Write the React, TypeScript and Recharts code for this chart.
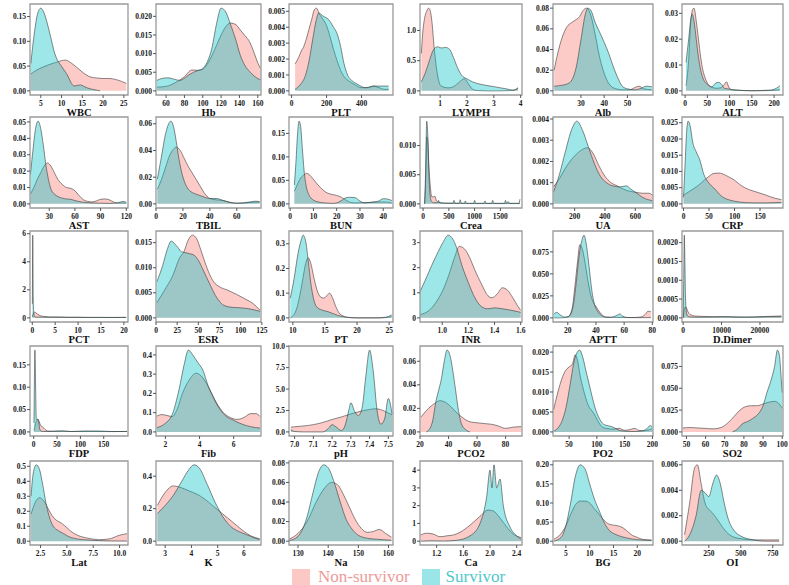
import React from 'react';
import { AreaChart, Area, XAxis, YAxis, ReferenceArea } from 'recharts';

type Pt = [number, number];

// ---------- Row 1 ----------
const wbcNon: Pt[] = [[2.6,0.034],[4,0.042],[5.5,0.048],[7,0.053],[8.5,0.057],[10,0.061],[11,0.062],[12,0.058],[13,0.052],[14,0.045],[15,0.038],[16,0.032],[17,0.028],[18.5,0.026],[20,0.025],[21.5,0.025],[23,0.023],[24.5,0.019],[25.6,0.015]];
const wbcSur: Pt[] = [[2.6,0.055],[3.5,0.12],[4.3,0.158],[5,0.167],[5.8,0.157],[6.6,0.135],[7.4,0.108],[8.2,0.08],[9,0.062],[9.8,0.052],[10.6,0.042],[11.4,0.032],[12.2,0.018],[13,0.01],[13.8,0.011],[14.6,0.012],[15.4,0.009],[16.2,0.006],[17.5,0.003],[19.3,0]];
const wbcTicks = [5, 10, 15, 20, 25];

const hbNon: Pt[] = [[50,0.001],[60,0.0012],[70,0.0022],[80,0.0038],[88,0.0056],[95,0.0055],[100,0.0058],[105,0.0072],[110,0.0095],[115,0.0122],[120,0.015],[125,0.0172],[130,0.0182],[136,0.0178],[141,0.0163],[146,0.0148],[151,0.0132],[156,0.0102],[160,0.0075],[163,0.006]];
const hbSur: Pt[] = [[50,0.0028],[55,0.0033],[62,0.0035],[68,0.0032],[75,0.0028],[80,0.0034],[85,0.0043],[90,0.005],[95,0.0055],[100,0.006],[105,0.0078],[110,0.0115],[115,0.018],[120,0.0222],[125,0.0212],[130,0.018],[136,0.0137],[141,0.0095],[146,0.0068],[151,0.0052],[156,0.004],[160,0.0033],[163,0.003]];
const hbTicks = [60, 80, 100, 120, 140, 160];

const pltNon: Pt[] = [[20,0.0017],[40,0.0021],[55,0.0025],[70,0.0028],[85,0.0033],[100,0.0039],[115,0.0045],[130,0.0051],[142,0.0052],[160,0.0048],[180,0.0045],[200,0.0041],[220,0.0034],[240,0.0026],[260,0.0019],[280,0.0013],[300,0.0009],[330,0.0006],[360,0.0004],[400,0.0002],[440,0.0002],[470,0.0003],[500,0.0002],[530,0.0001],[555,0.0001]];
const pltSur: Pt[] = [[20,0.0001],[50,0.0004],[80,0.001],[100,0.0019],[120,0.0032],[140,0.0044],[155,0.0049],[180,0.0047],[210,0.0045],[240,0.004],[260,0.0036],[280,0.0028],[300,0.0017],[320,0.001],[350,0.0006],[380,0.0004],[420,0.0002],[470,0.0003],[510,0.0003],[555,0.0003]];
const pltTicks = [0, 200, 400];

const lymNon: Pt[] = [[0.3,0.62],[0.35,0.95],[0.42,1.2],[0.5,1.32],[0.57,1.37],[0.63,1.33],[0.7,1.12],[0.77,0.75],[0.85,0.42],[0.93,0.2],[1.0,0.1],[1.15,0.06],[1.3,0.05],[1.45,0.06],[1.6,0.1],[1.75,0.16],[1.9,0.2],[2.05,0.12],[2.2,0.03],[2.4,0.005],[2.8,0],[3.2,0],[3.6,0.005],[3.8,0.02],[3.9,0.05]];
const lymSur: Pt[] = [[0.3,0.15],[0.45,0.3],[0.6,0.5],[0.75,0.68],[0.9,0.73],[1.05,0.71],[1.2,0.72],[1.35,0.69],[1.5,0.55],[1.65,0.38],[1.8,0.26],[2.0,0.2],[2.2,0.15],[2.5,0.11],[3.0,0.07],[3.5,0.03],[3.75,0.01],[3.9,0.05]];
const lymTicks = [1, 2, 3, 4];

const albNon: Pt[] = [[18.5,0.02],[20,0.036],[22,0.052],[24,0.062],[26,0.066],[28,0.069],[29.5,0.072],[31,0.078],[32.5,0.08],[34,0.075],[36,0.056],[38,0.033],[40,0.017],[42,0.007],[45,0.002],[48,0.001],[51,0.001],[53,0.003],[55,0.0045],[57,0.002],[60.5,0.001]];
const albSur: Pt[] = [[18.5,0.0045],[22,0.0055],[25,0.0077],[28,0.023],[30,0.049],[32,0.075],[33,0.08],[34.5,0.077],[36,0.067],[38,0.057],[40,0.047],[42,0.036],[44,0.023],[46,0.012],[48,0.004],[50,0.002],[53,0.001],[56,0.0026],[58,0.0045],[60.5,0.004]];
const albTicks = [30, 40, 50];

const altNon: Pt[] = [[2,0.002],[8,0.012],[12,0.025],[17,0.0315],[20,0.032],[25,0.027],[30,0.02],[35,0.013],[40,0.008],[45,0.005],[50,0.003],[60,0.0015],[70,0.001],[80,0.0012],[88,0.0025],[93,0.0035],[98,0.0015],[105,0.0004],[120,0.0002],[150,0],[190,0.0001],[205,0.0003],[213,0.0005]];
const altSur: Pt[] = [[2,0.011],[8,0.02],[13,0.028],[16,0.0297],[20,0.027],[25,0.02],[30,0.013],[35,0.008],[40,0.005],[50,0.0025],[60,0.0015],[67,0.0028],[75,0.0033],[82,0.0025],[88,0.001],[95,0.0008],[110,0.0004],[150,0.0001],[190,0.0003],[205,0.001],[213,0.002]];
const altTicks = [0, 50, 100, 150, 200];

// ---------- Row 2 ----------
const astNon: Pt[] = [[8,0.006],[12,0.01],[16,0.015],[20,0.019],[24,0.023],[28,0.025],[32,0.023],[36,0.019],[40,0.015],[45,0.012],[50,0.01],[55,0.0095],[60,0.008],[65,0.005],[70,0.0025],[75,0.0015],[80,0.0012],[85,0.0018],[90,0.0028],[95,0.003],[100,0.0025],[105,0.0012],[110,0.0006],[120,0.0005]];
const astSur: Pt[] = [[8,0.018],[11,0.033],[14,0.046],[17,0.0505],[20,0.046],[23,0.036],[26,0.024],[29,0.015],[32,0.009],[36,0.006],[40,0.0045],[45,0.0035],[50,0.003],[55,0.0028],[60,0.002],[70,0.001],[80,0.0006],[90,0.0004],[100,0.0003],[110,0.0006],[116,0.0015],[120,0.001]];
const astTicks = [30, 60, 90, 120];

const tbilNon: Pt[] = [[1,0.011],[4,0.018],[7,0.027],[10,0.036],[13,0.041],[15,0.0425],[18,0.04],[21,0.034],[24,0.028],[27,0.023],[30,0.018],[33,0.013],[36,0.008],[40,0.004],[45,0.003],[50,0.0025],[55,0.0012],[60,0.0005],[65,0.0006],[70,0.001],[77,0.0015]];
const tbilSur: Pt[] = [[1,0.0185],[4,0.035],[7,0.052],[9,0.059],[11,0.062],[13,0.058],[15,0.047],[17,0.034],[19,0.024],[21,0.017],[24,0.011],[28,0.008],[32,0.0065],[36,0.005],[40,0.004],[45,0.004],[50,0.0025],[55,0.001],[60,0.0005],[65,0.0008],[70,0.0015],[74,0.002],[77,0.0015]];
const tbilTicks = [0, 20, 40, 60];

const bunNon: Pt[] = [[1.8,0.027],[3,0.04],[4.5,0.055],[6,0.062],[7,0.065],[8,0.063],[10,0.052],[12,0.04],[14,0.03],[16,0.023],[18,0.02],[20,0.018],[22,0.014],[24,0.008],[26,0.003],[28,0.002],[30,0.0025],[34,0.003],[38,0.004],[41,0.004],[43.7,0.002]];
const bunSur: Pt[] = [[1.8,0.04],[2.5,0.09],[3.2,0.15],[3.8,0.176],[4.5,0.165],[5.2,0.12],[6,0.07],[7,0.035],[8,0.02],[9,0.012],[10,0.008],[12,0.004],[15,0.002],[18,0.001],[20,0.002],[22,0.007],[24,0.013],[26,0.014],[28,0.013],[30,0.006],[32,0.002],[34,0.003],[36,0.004],[38,0.006],[40,0.011],[42,0.01],[43.7,0.007]];
const bunTicks = [0, 10, 20, 30, 40];

const creaNon: Pt[] = [[30,0],[50,0.004],[70,0.0115],[90,0.011],[110,0.007],[140,0.003],[170,0.0012],[200,0.0012],[230,0.0013],[260,0.0005],[300,0.0003],[400,0.0001],[600,0.0001],[900,0.00005],[1200,0.00005],[1500,0.00005],[1880,0.00005]];
const creaSur: Pt[] = [[30,0],[50,0.006],[70,0.0142],[90,0.012],[110,0.006],[130,0.002],[160,0.0005],[200,0.0002],[280,0.0002],[300,0.0006],[320,0.0002],[580,0.0001],[600,0.0006],[620,0.0001],[700,0.0001],[720,0.0007],[740,0.0001],[800,0.0001],[820,0.0005],[840,0.0001],[980,0.0001],[1000,0.0006],[1020,0.0001],[1180,0.0001],[1200,0.0005],[1220,0.0001],[1330,0.0001],[1350,0.0006],[1370,0.0001],[1580,0.0001],[1600,0.0006],[1620,0.0001],[1650,0.0004],[1680,0.0001],[1860,0.0001],[1880,0.0008]];
const creaTicks = [0, 500, 1000, 1500];

const uaNon: Pt[] = [[60,0.0008],[100,0.0012],[140,0.0017],[180,0.0021],[220,0.0024],[260,0.0026],[285,0.00265],[320,0.0024],[360,0.0018],[400,0.0013],[440,0.001],[480,0.00085],[520,0.0007],[560,0.0006],[600,0.00055],[650,0.0005],[690,0.0005],[714,0.0004]];
const uaSur: Pt[] = [[60,0.00055],[100,0.0014],[140,0.0025],[180,0.0035],[215,0.0039],[250,0.0035],[290,0.0027],[330,0.0019],[370,0.0013],[410,0.001],[450,0.00085],[500,0.0008],[540,0.00085],[570,0.0007],[610,0.0005],[650,0.0003],[714,0.00015]];
const uaTicks = [200, 400, 600];

const crpNon: Pt[] = [[0,0.0027],[10,0.0037],[20,0.0047],[30,0.0058],[40,0.0072],[50,0.0085],[60,0.0094],[70,0.0095],[80,0.009],[90,0.0082],[100,0.0073],[110,0.006],[120,0.005],[130,0.0043],[140,0.0038],[150,0.0033],[160,0.0028],[170,0.0022],[180,0.0017],[192,0.0013]];
const crpSur: Pt[] = [[0,0.002],[3,0.012],[6,0.022],[9,0.0255],[13,0.024],[18,0.019],[25,0.016],[32,0.0135],[40,0.009],[47,0.007],[55,0.0055],[62,0.0045],[70,0.003],[80,0.0018],[90,0.0012],[100,0.0008],[120,0.0004],[140,0.0003],[160,0.0003],[180,0.0004],[192,0.0005]];
const crpTicks = [0, 50, 100, 150];

// ---------- Row 3 ----------
const pctNon: Pt[] = [[0.02,0.05],[0.1,0.2],[0.3,0.35],[0.5,0.42],[0.8,0.35],[1.2,0.25],[1.8,0.15],[2.5,0.1],[3.5,0.07],[5,0.06],[7,0.05],[10,0.04],[13,0.03],[16,0.025],[20.5,0.03]];
const pctSur: Pt[] = [[0.02,1.0],[0.06,4.2],[0.1,5.9],[0.15,4.0],[0.2,1.5],[0.3,0.4],[0.5,0.1],[1,0.05],[2,0.05],[4,0.04],[6,0.05],[8,0.03],[10,0.04],[12,0.03],[15,0.035],[18,0.03],[20.5,0.04]];
const pctTicks = [0, 5, 10, 15, 20];

const esrNon: Pt[] = [[1,0.003],[10,0.0055],[20,0.0085],[28,0.012],[33,0.0132],[38,0.0155],[43,0.0165],[48,0.0158],[53,0.0135],[58,0.011],[63,0.0088],[68,0.0072],[75,0.0062],[85,0.0055],[95,0.0047],[105,0.0038],[115,0.0028],[123,0.0015]];
const esrSur: Pt[] = [[1,0.0072],[8,0.0105],[13,0.0135],[18,0.0153],[22,0.0148],[26,0.014],[30,0.0132],[35,0.013],[40,0.0128],[45,0.0125],[50,0.0115],[55,0.0098],[60,0.008],[65,0.0062],[70,0.0045],[75,0.0033],[80,0.0025],[90,0.0021],[100,0.002],[110,0.0018],[123,0.0013]];
const esrTicks = [0, 25, 50, 75, 100, 125];

const ptNon: Pt[] = [[9.6,0],[10.5,0.03],[11,0.08],[11.5,0.15],[12,0.22],[12.4,0.243],[12.8,0.22],[13.3,0.16],[13.8,0.11],[14.3,0.085],[14.8,0.08],[15.3,0.09],[15.7,0.1],[16.2,0.08],[16.7,0.045],[17.2,0.02],[17.8,0.008],[18.5,0.002],[20,0],[24,0],[25.4,0.005]];
const ptSur: Pt[] = [[9.6,0.08],[10.2,0.16],[10.8,0.26],[11.3,0.315],[11.6,0.335],[12,0.31],[12.4,0.23],[12.8,0.14],[13.2,0.08],[13.7,0.045],[14.5,0.032],[15.5,0.025],[16,0.02],[16.5,0.015],[17,0.01],[18,0.004],[19,0.001],[20,0],[23,0],[24.5,0.003],[25.4,0.012]];
const ptTicks = [10, 15, 20, 25];

const inrNon: Pt[] = [[0.83,0.13],[0.9,0.3],[0.95,0.6],[1.0,1.05],[1.05,1.7],[1.1,2.5],[1.13,2.85],[1.17,2.75],[1.21,2.4],[1.25,1.9],[1.3,1.35],[1.35,0.88],[1.38,0.8],[1.42,0.95],[1.46,1.2],[1.5,1.1],[1.54,0.8],[1.58,0.45],[1.6,0.3]];
const inrSur: Pt[] = [[0.83,1.04],[0.87,1.5],[0.92,2.1],[0.97,2.65],[1.01,3.05],[1.045,3.3],[1.08,3.15],[1.11,2.8],[1.15,2.1],[1.2,1.4],[1.25,0.8],[1.3,0.45],[1.35,0.36],[1.4,0.4],[1.45,0.37],[1.5,0.33],[1.55,0.28],[1.6,0.22]];
const inrTicks = [1.0, 1.2, 1.4, 1.6];

const apttNon: Pt[] = [[10,0],[15,0],[20,0.001],[23,0.01],[25,0.035],[27,0.065],[28.5,0.083],[30,0.08],[32,0.065],[34,0.045],[36,0.028],[38,0.018],[40,0.013],[42,0.008],[44,0.004],[47,0.001],[55,0.0005],[65,0.0003],[72,0.001],[75,0.004],[77,0.0075],[79,0.007]];
const apttSur: Pt[] = [[10,0.004],[12,0.0063],[15,0.003],[18,0.0008],[21,0.002],[24,0.015],[26,0.04],[28,0.07],[30,0.088],[31.5,0.094],[33,0.085],[35,0.06],[37,0.032],[39,0.015],[41,0.008],[43,0.004],[46,0.001],[50,0.0005],[55,0.003],[57,0.0045],[59,0.002],[62,0.0005],[70,0.0002],[79,0.0003]];
const apttTicks = [20, 40, 60, 80];

const ddNon: Pt[] = [[0,0],[200,0.00015],[500,0.00028],[800,0.00028],[1100,0.0002],[1500,0.00012],[2000,0.00008],[3000,0.00005],[5000,0.00004],[8000,0.00003],[12000,0.00003],[16000,0.00002],[20000,0.00003],[25600,0.00005]];
const ddSur: Pt[] = [[0,0],[150,0.001],[300,0.0022],[450,0.0015],[600,0.0006],[800,0.0002],[1000,0.00008],[1500,0.00003],[3000,0.00002],[6000,0.00002],[10000,0.00003],[14000,0.00002],[18000,0.00002],[22000,0.00003],[25600,0.00003]];
const ddTicks = [0, 10000, 20000];

// ---------- Row 4 ----------
const fdpNon: Pt[] = [[0.5,0.003],[3,0.015],[6,0.025],[9,0.028],[12,0.022],[15,0.014],[18,0.012],[22,0.008],[26,0.004],[30,0.002],[40,0.0015],[60,0.002],[80,0.001],[120,0.001],[160,0.0008],[200,0.001]];
const fdpSur: Pt[] = [[0.5,0.02],[1.5,0.12],[2.5,0.183],[3.5,0.14],[4.5,0.07],[5.5,0.03],[7,0.027],[9,0.029],[11,0.02],[13,0.006],[16,0.002],[20,0.001],[30,0.0008],[60,0.002],[80,0.0008],[110,0.002],[140,0.002],[170,0.0008],[200,0.001]];
const fdpTicks = [0, 50, 100, 150];

const fibNon: Pt[] = [[1.5,0.082],[1.8,0.09],[2.1,0.085],[2.4,0.08],[2.7,0.12],[3.0,0.2],[3.4,0.27],[3.8,0.305],[4.2,0.28],[4.6,0.22],[5.0,0.15],[5.4,0.1],[5.8,0.075],[6.2,0.065],[6.6,0.075],[7.0,0.095],[7.3,0.095],[7.55,0.08]];
const fibSur: Pt[] = [[1.5,0.022],[2.0,0.045],[2.4,0.09],[2.8,0.22],[3.1,0.35],[3.35,0.425],[3.6,0.4],[3.9,0.36],[4.2,0.32],[4.5,0.24],[4.8,0.18],[5.1,0.13],[5.5,0.085],[6,0.06],[6.5,0.04],[7,0.027],[7.55,0.02]];
const fibTicks = [2, 4, 6];

const phNon: Pt[] = [[6.98,0.55],[7.0,0.6],[7.05,0.7],[7.1,0.85],[7.15,1.1],[7.2,1.45],[7.25,1.75],[7.3,2.1],[7.35,2.4],[7.4,2.62],[7.43,2.7],[7.46,2.6],[7.5,2.2],[7.52,2.0]];
const phSur: Pt[] = [[6.98,0.25],[7.0,0.05],[7.05,0],[7.15,0],[7.18,0.4],[7.2,0.85],[7.22,0.6],[7.25,0.15],[7.27,0.8],[7.29,2.6],[7.3,3.4],[7.32,2.4],[7.34,1.9],[7.36,2.8],[7.38,6.5],[7.4,9.55],[7.42,7.0],[7.44,2.5],[7.46,0.9],[7.48,1.5],[7.5,3.9],[7.52,2.1]];
const phTicks = [7.0, 7.1, 7.2, 7.3, 7.4, 7.5];

const pco2Non: Pt[] = [[20.5,0.0125],[23,0.016],[26,0.02],[30,0.024],[34,0.0265],[38,0.025],[42,0.021],[46,0.016],[50,0.012],[54,0.009],[58,0.008],[62,0.0075],[66,0.007],[70,0.0065],[75,0.005],[80,0.003],[85,0.004],[91,0.0045]];
const pco2Sur: Pt[] = [[24.4,0],[27,0.003],[29,0.01],[31,0.025],[33,0.035],[35,0.045],[37,0.06],[39,0.0695],[41,0.065],[43,0.052],[45,0.035],[47,0.018],[49,0.007],[52,0.002],[55,0]];
const pco2Ticks = [20, 40, 60, 80];

const po2Non: Pt[] = [[22,0.0055],[28,0.009],[35,0.0125],[42,0.015],[50,0.0163],[56,0.017],[61,0.0193],[65,0.018],[70,0.014],[75,0.011],[80,0.0085],[85,0.0065],[90,0.0055],[95,0.0045],[100,0.0032],[105,0.002],[110,0.0012],[120,0.0008],[130,0.0007],[140,0.0009],[150,0.0004],[160,0.0006],[168,0.0009],[175,0.0004],[185,0.0003],[195,0.0006],[200,0.0008]];
const po2Sur: Pt[] = [[22,0.0002],[30,0.001],[38,0.003],[45,0.0065],[52,0.012],[58,0.017],[63,0.0195],[69,0.0205],[74,0.019],[80,0.0155],[86,0.012],[92,0.0085],[98,0.0055],[104,0.0035],[110,0.0022],[118,0.0016],[125,0.0014],[132,0.001],[140,0.0004],[150,0.0002],[165,0.0001],[180,0.0002],[190,0.0008],[196,0.0016],[200,0.0012]];
const po2Ticks = [50, 100, 150, 200];

const so2Non: Pt[] = [[48,0.0045],[52,0.005],[56,0.0045],[60,0.004],[64,0.0035],[68,0.005],[72,0.011],[75,0.018],[78,0.025],[81,0.029],[84,0.03],[87,0.03],[90,0.032],[93,0.034],[96,0.035],[98,0.033],[100,0.027]];
const so2Sur: Pt[] = [[74,0],[77,0.004],[79,0.009],[82,0.012],[85,0.016],[88,0.022],[90,0.03],[92,0.045],[94,0.058],[96,0.075],[97.5,0.0937],[98.5,0.088],[99.5,0.06],[100,0.045]];
const so2Ticks = [50, 60, 70, 80, 90, 100];

// ---------- Row 5 ----------
const latNon: Pt[] = [[1.6,0.18],[2.0,0.26],[2.4,0.29],[2.8,0.27],[3.2,0.22],[3.6,0.17],[4.0,0.14],[4.5,0.12],[5.0,0.09],[5.5,0.06],[6.0,0.04],[7.0,0.02],[8.0,0.01],[9.0,0.015],[10.0,0.04],[10.7,0.05]];
const latSur: Pt[] = [[1.6,0.3],[1.8,0.45],[2.1,0.51],[2.4,0.48],[2.7,0.38],[3.0,0.26],[3.3,0.17],[3.7,0.1],[4.2,0.07],[4.7,0.05],[5.2,0.03],[6,0.015],[7,0.008],[8,0.004],[9,0.002],[10.7,0.001]];
const latTicks = [2.5, 5.0, 7.5, 10.0];

const kNon: Pt[] = [[2.7,0.22],[3.0,0.3],[3.3,0.34],[3.6,0.33],[3.9,0.31],[4.2,0.29],[4.5,0.26],[4.8,0.22],[5.1,0.18],[5.4,0.14],[5.7,0.1],[6.0,0.06],[6.3,0.03],[6.6,0.015]];
const kSur: Pt[] = [[2.7,0.17],[3.0,0.22],[3.3,0.28],[3.6,0.36],[3.9,0.44],[4.1,0.47],[4.3,0.45],[4.6,0.35],[4.9,0.24],[5.2,0.15],[5.5,0.09],[5.8,0.06],[6.1,0.04],[6.4,0.02],[6.6,0.01]];
const kTicks = [3, 4, 5, 6];

const naNon: Pt[] = [[127,0.002],[130,0.008],[133,0.02],[136,0.04],[139,0.055],[141,0.06],[143,0.058],[145,0.048],[147,0.035],[149,0.022],[151,0.013],[153,0.009],[155,0.01],[157,0.012],[159,0.008],[161,0.004]];
const naSur: Pt[] = [[127,0.0005],[130,0.005],[133,0.025],[135,0.05],[137,0.072],[138.5,0.078],[140,0.075],[142,0.06],[144,0.04],[146,0.022],[148,0.012],[150,0.006],[153,0.003],[156,0.002],[161,0.001]];
const naTicks = [130, 140, 150, 160];

const caNon: Pt[] = [[0.96,0.35],[1.05,0.45],[1.15,0.4],[1.25,0.25],[1.35,0.3],[1.45,0.35],[1.55,0.5],[1.7,0.9],[1.85,1.4],[1.97,1.75],[2.05,1.7],[2.15,1.3],[2.25,0.8],[2.35,0.4],[2.47,0.2]];
const caSur: Pt[] = [[0.96,0],[1.1,0.02],[1.3,0.01],[1.5,0.05],[1.7,0.3],[1.85,1.0],[1.95,2.5],[2.0,4.0],[2.03,3.0],[2.06,4.3],[2.1,3.0],[2.15,3.5],[2.2,2.0],[2.3,0.8],[2.4,0.3],[2.47,0.1]];
const caTicks = [1.2, 1.6, 2.0, 2.4];

const bgNon: Pt[] = [[2.5,0.005],[4,0.02],[5,0.04],[6,0.07],[7,0.095],[8,0.105],[9,0.105],[10,0.1],[11,0.085],[12,0.07],[13,0.055],[14,0.045],[15,0.042],[16,0.04],[17,0.035],[18,0.025],[19,0.015],[20,0.01],[21,0.005],[23,0.003]];
const bgSur: Pt[] = [[2.5,0],[4,0.01],[5,0.04],[6,0.1],[7,0.17],[8,0.2],[9,0.19],[10,0.15],[11,0.11],[12,0.08],[13,0.05],[14,0.03],[16,0.015],[18,0.008],[20,0.004],[23,0.002]];
const bgTicks = [5, 10, 15, 20];

const oiNon: Pt[] = [[60,0.0005],[100,0.003],[140,0.0058],[160,0.006],[190,0.0045],[220,0.003],[250,0.0025],[280,0.0022],[310,0.0018],[350,0.0012],[400,0.0006],[450,0.0003],[500,0.0002],[600,0.0001],[700,0.0001],[800,0.0001]];
const oiSur: Pt[] = [[60,0],[100,0.0005],[150,0.002],[190,0.004],[220,0.0038],[250,0.0035],[280,0.0045],[310,0.0052],[340,0.0045],[370,0.003],[400,0.0018],[450,0.0008],[500,0.0004],[600,0.0001],[700,0],[800,0]];
const oiTicks = [250, 500, 750];

interface Spec {
  title: string; non: Pt[]; sur: Pt[];
  xDomain: [number, number]; xTicks: number[]; xDec: number;
  yTicks: number[]; yDec: number;
}

const panels: Spec[] = [
  { title: 'WBC', non: wbcNon, sur: wbcSur, xDomain: [2.4, 26], xTicks: wbcTicks, xDec: 0, yTicks: [0, 0.05, 0.1, 0.15], yDec: 2 },
  { title: 'Hb', non: hbNon, sur: hbSur, xDomain: [49, 163.5], xTicks: hbTicks, xDec: 0, yTicks: [0, 0.005, 0.01, 0.015, 0.02], yDec: 3 },
  { title: 'PLT', non: pltNon, sur: pltSur, xDomain: [-15, 580], xTicks: pltTicks, xDec: 0, yTicks: [0, 0.001, 0.002, 0.003, 0.004, 0.005], yDec: 3 },
  { title: 'LYMPH', non: lymNon, sur: lymSur, xDomain: [0.25, 4.05], xTicks: lymTicks, xDec: 0, yTicks: [0, 0.5, 1.0], yDec: 1 },
  { title: 'Alb', non: albNon, sur: albSur, xDomain: [18, 61], xTicks: albTicks, xDec: 0, yTicks: [0, 0.02, 0.04, 0.06, 0.08], yDec: 2 },
  { title: 'ALT', non: altNon, sur: altSur, xDomain: [-7, 220], xTicks: altTicks, xDec: 0, yTicks: [0, 0.01, 0.02, 0.03], yDec: 2 },
  { title: 'AST', non: astNon, sur: astSur, xDomain: [7.5, 122], xTicks: astTicks, xDec: 0, yTicks: [0, 0.01, 0.02, 0.03, 0.04, 0.05], yDec: 2 },
  { title: 'TBIL', non: tbilNon, sur: tbilSur, xDomain: [0, 78], xTicks: tbilTicks, xDec: 0, yTicks: [0, 0.02, 0.04, 0.06], yDec: 2 },
  { title: 'BUN', non: bunNon, sur: bunSur, xDomain: [-0.5, 44.2], xTicks: bunTicks, xDec: 0, yTicks: [0, 0.05, 0.1, 0.15], yDec: 2 },
  { title: 'Crea', non: creaNon, sur: creaSur, xDomain: [-60, 1920], xTicks: creaTicks, xDec: 0, yTicks: [0, 0.005, 0.01], yDec: 3 },
  { title: 'UA', non: uaNon, sur: uaSur, xDomain: [57, 717], xTicks: uaTicks, xDec: 0, yTicks: [0, 0.001, 0.002, 0.003, 0.004], yDec: 3 },
  { title: 'CRP', non: crpNon, sur: crpSur, xDomain: [-3, 195], xTicks: crpTicks, xDec: 0, yTicks: [0, 0.005, 0.01, 0.015, 0.02, 0.025], yDec: 3 },
  { title: 'PCT', non: pctNon, sur: pctSur, xDomain: [-0.5, 20.9], xTicks: pctTicks, xDec: 0, yTicks: [0, 2, 4, 6], yDec: 0 },
  { title: 'ESR', non: esrNon, sur: esrSur, xDomain: [0, 124], xTicks: esrTicks, xDec: 0, yTicks: [0, 0.005, 0.01, 0.015], yDec: 3 },
  { title: 'PT', non: ptNon, sur: ptSur, xDomain: [9.4, 25.6], xTicks: ptTicks, xDec: 0, yTicks: [0, 0.1, 0.2, 0.3], yDec: 1 },
  { title: 'INR', non: inrNon, sur: inrSur, xDomain: [0.83, 1.61], xTicks: inrTicks, xDec: 1, yTicks: [0, 1, 2, 3], yDec: 0 },
  { title: 'APTT', non: apttNon, sur: apttSur, xDomain: [9.5, 80.5], xTicks: apttTicks, xDec: 0, yTicks: [0, 0.025, 0.05, 0.075], yDec: 3 },
  { title: 'D.Dimer', non: ddNon, sur: ddSur, xDomain: [-300, 26000], xTicks: ddTicks, xDec: 0, yTicks: [0, 0.0005, 0.001, 0.0015, 0.002], yDec: 4 },
  { title: 'FDP', non: fdpNon, sur: fdpSur, xDomain: [-8, 202], xTicks: fdpTicks, xDec: 0, yTicks: [0, 0.05, 0.1, 0.15], yDec: 2 },
  { title: 'Fib', non: fibNon, sur: fibSur, xDomain: [1.45, 7.6], xTicks: fibTicks, xDec: 0, yTicks: [0, 0.1, 0.2, 0.3, 0.4], yDec: 1 },
  { title: 'pH', non: phNon, sur: phSur, xDomain: [6.97, 7.525], xTicks: phTicks, xDec: 1, yTicks: [0, 2.5, 5, 7.5, 10], yDec: 1 },
  { title: 'PCO2', non: pco2Non, sur: pco2Sur, xDomain: [20, 91.5], xTicks: pco2Ticks, xDec: 0, yTicks: [0, 0.02, 0.04, 0.06], yDec: 2 },
  { title: 'PO2', non: po2Non, sur: po2Sur, xDomain: [21, 201], xTicks: po2Ticks, xDec: 0, yTicks: [0, 0.005, 0.01, 0.015, 0.02], yDec: 3 },
  { title: 'SO2', non: so2Non, sur: so2Sur, xDomain: [47.7, 100.4], xTicks: so2Ticks, xDec: 0, yTicks: [0, 0.025, 0.05, 0.075], yDec: 3 },
  { title: 'Lat', non: latNon, sur: latSur, xDomain: [1.5, 10.8], xTicks: latTicks, xDec: 1, yTicks: [0, 0.1, 0.2, 0.3, 0.4, 0.5], yDec: 1 },
  { title: 'K', non: kNon, sur: kSur, xDomain: [2.65, 6.65], xTicks: kTicks, xDec: 0, yTicks: [0, 0.2, 0.4], yDec: 1 },
  { title: 'Na', non: naNon, sur: naSur, xDomain: [127, 161.5], xTicks: naTicks, xDec: 0, yTicks: [0, 0.02, 0.04, 0.06, 0.08], yDec: 2 },
  { title: 'Ca', non: caNon, sur: caSur, xDomain: [0.95, 2.48], xTicks: caTicks, xDec: 1, yTicks: [0, 1, 2, 3, 4], yDec: 0 },
  { title: 'BG', non: bgNon, sur: bgSur, xDomain: [2.3, 23.3], xTicks: bgTicks, xDec: 0, yTicks: [0, 0.05, 0.1, 0.15, 0.2], yDec: 2 },
  { title: 'OI', non: oiNon, sur: oiSur, xDomain: [40, 830], xTicks: oiTicks, xDec: 0, yTicks: [0, 0.002, 0.004, 0.006], yDec: 3 },
];

const COL_L = [30, 156, 289, 420, 553, 682];
const COL_R = [128, 261, 393, 522, 653, 783];
const ROW_T = [4, 117, 231, 346, 461];
const ROW_B = [95, 208, 322, 436, 545];
const TITLE_OFFSET = [6, 6, 6, 6, 6];

const FONT = "'Liberation Serif', 'Times New Roman', serif";
const PINK = '#F8766D';
const CYAN = '#00BFC4';

type Row = { x: number; non: number | null; sur: number | null };

function merge(non: Pt[], sur: Pt[]): Row[] {
  const map = new Map<number, Row>();
  non.forEach(([x, y]) => map.set(x, { x, non: y, sur: null }));
  sur.forEach(([x, y]) => {
    const r = map.get(x);
    if (r) r.sur = y; else map.set(x, { x, non: null, sur: y });
  });
  return Array.from(map.values()).sort((a, b) => a.x - b.x);
}

function Panel({ spec, row, col }: { spec: Spec; row: number; col: number }) {
  const boxW = COL_R[col] - COL_L[col];
  const boxH = ROW_B[row] - ROW_T[row];
  const YW = 40, MT = 7, MR = 12, XH = 27;
  const data = merge(spec.non, spec.sur);
  const peak = Math.max(...spec.non.map((p) => p[1]), ...spec.sur.map((p) => p[1]));
  const yDomain: [number, number] = [-0.05 * peak, 1.05 * peak];
  const tickStyle = { fontSize: 7.5, fontWeight: 700, fill: '#1a1a1a', fontFamily: FONT };
  return (
    <div style={{ position: 'absolute', left: COL_L[col] - YW, top: ROW_T[row] - MT }}>
      <AreaChart width={YW + boxW + MR} height={MT + boxH + XH} data={data}
        margin={{ top: MT, right: MR, left: 0, bottom: 0 }}>
        <XAxis type="number" dataKey="x" domain={spec.xDomain} ticks={spec.xTicks} allowDataOverflow
          interval={0} tickFormatter={(v: number) => v.toFixed(spec.xDec)} tick={tickStyle}
          tickLine={{ stroke: '#555' }} tickSize={3} tickMargin={2.5} axisLine={false} height={XH}
          label={{ value: spec.title, position: 'insideBottom', offset: TITLE_OFFSET[row], fontSize: 10.5, fontWeight: 700, fill: '#111', fontFamily: FONT }} />
        <YAxis type="number" domain={yDomain} ticks={spec.yTicks} allowDataOverflow interval={0}
          tickFormatter={(v: number) => v.toFixed(spec.yDec)} tick={tickStyle}
          tickLine={{ stroke: '#555' }} tickSize={3} tickMargin={1} axisLine={false} width={YW} />
        <Area dataKey="non" type="monotone" connectNulls baseValue={0} fill={PINK} fillOpacity={0.38}
          stroke="#3a3a3a" strokeWidth={0.6} dot={false} activeDot={false} isAnimationActive={false} />
        <Area dataKey="sur" type="monotone" connectNulls baseValue={0} fill={CYAN} fillOpacity={0.38}
          stroke="#3a3a3a" strokeWidth={0.6} dot={false} activeDot={false} isAnimationActive={false} />
        <ReferenceArea x1={spec.xDomain[0]} x2={spec.xDomain[1]} y1={yDomain[0]} y2={yDomain[1]}
          fill="none" fillOpacity={0} stroke="#9a9a9a" strokeWidth={1.3} ifOverflow="visible" />
      </AreaChart>
    </div>
  );
}

export default function App() {
  return (
    <div style={{ position: 'absolute', left: 0, top: 0, width: 789, height: 585, background: '#fff', overflow: 'hidden' }}>
      {panels.map((p, i) => (
        <Panel key={p.title} spec={p} row={Math.floor(i / 6)} col={i % 6} />
      ))}
      <div style={{ position: 'absolute', top: 569, left: 292, display: 'flex', alignItems: 'center', fontFamily: FONT, fontSize: 17, lineHeight: '16px' }}>
        <span style={{ width: 18, height: 16, background: 'rgba(248,118,109,0.4)', display: 'inline-block' }} />
        <span style={{ marginLeft: 8, color: '#EE9A9A' }}>Non-survivor</span>
        <span style={{ width: 18, height: 16, background: 'rgba(0,191,196,0.4)', display: 'inline-block', marginLeft: 12 }} />
        <span style={{ marginLeft: 6, color: '#4FC8C8' }}>Survivor</span>
      </div>
    </div>
  );
}
